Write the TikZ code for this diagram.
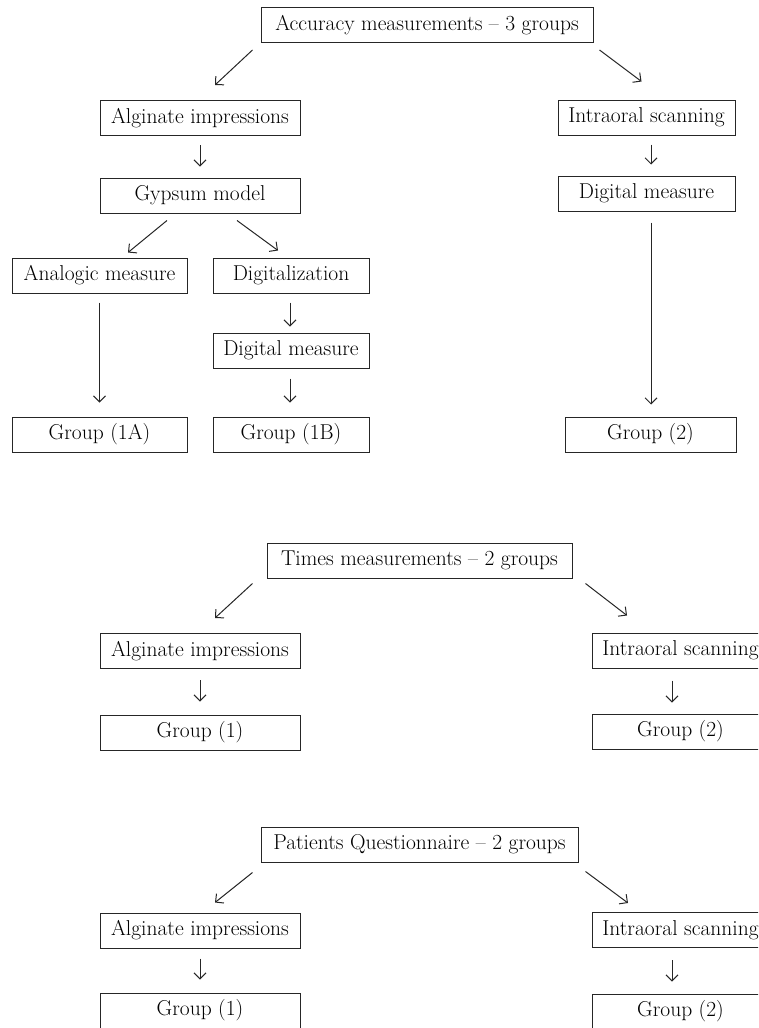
\documentclass[tikz,border=0pt]{standalone}
\usepackage{fontspec}
\usepackage{tikz}
\usetikzlibrary{arrows.meta,calc}

\begin{document}
\begin{tikzpicture}[x=1pt, y=-1pt, line width=1pt,
  box/.style={draw=black!85, minimum height=35pt, inner sep=0pt, font=\fontsize{21.5}{25}\selectfont},
  arr/.style={draw=black!85, -{Straight Barb[length=6pt,width=12pt]}}]
\useasboundingbox (0,0) rectangle (758,1028);
\clip (0,0) rectangle (758,1028);

\node[box, minimum width=332pt] (acc) at (427,25) {Accuracy measurements – 3 groups};
\node[box, minimum width=200pt] (alg1) at (200,118) {Alginate impressions};
\node[box, minimum width=177pt] (intra1) at (646.5,117.5) {Intraoral scanning};
\node[box, minimum width=200pt] (gyp) at (200,195.5) {Gypsum model};
\node[box, minimum width=177pt] (dig2) at (646.5,193.5) {Digital measure};
\node[box, minimum width=175pt] (ana) at (99.5,275.5) {Analogic measure};
\node[box, minimum width=156pt] (digz) at (291,275.5) {Digitalization};
\node[box, minimum width=156pt] (dgm) at (291,350.5) {Digital measure};
\node[box, minimum width=175pt] (g1a) at (99.5,434.5) {Group (1A)};
\node[box, minimum width=156pt] (g1b) at (291,434.5) {Group (1B)};
\node[box, minimum width=171pt] (g2) at (650.5,434.5) {Group (2)};

\draw[arr] ($(acc.south west)+(-8,7)$) -- ($(alg1.north)+(15,-15)$);
\draw[arr] ($(acc.south east)+(6,7)$) -- ($(intra1.north)+(-5,-18)$);
\draw[arr] ($(alg1.south)+(0,9)$) -- ($(gyp.north)+(0,-11)$);
\draw[arr] ($(intra1.south)+(4.5,9)$) -- ($(dig2.north)+(4.5,-11)$);
\draw[arr] ($(gyp.south)+(-33,7)$) -- ($(ana.north)+(28.5,-5)$);
\draw[arr] ($(gyp.south)+(37,7)$) -- ($(digz.north)+(-13,-7)$);
\draw[arr] ($(ana.south)+(0,9)$) -- ($(g1a.north)+(0,-14)$);
\draw[arr] ($(digz.south)+(-1,9)$) -- ($(dgm.north)+(-1,-6)$);
\draw[arr] ($(dgm.south)+(-1,10)$) -- ($(g1b.north)+(-1,-14)$);
\draw[arr] ($(dig2.south)+(4.5,11)$) -- ($(g2.north)+(0.5,-12)$);

\node[box, minimum width=305pt] (times) at (419.5,560.5) {Times measurements – 2 groups};
\node[box, minimum width=200pt] (alg2) at (200,651) {Alginate impressions};
\node[box, minimum width=177pt] (intra2) at (680.5,650.5) {Intraoral scanning};
\node[box, minimum width=200pt] (g1s2) at (200,732.5) {Group (1)};
\node[box, minimum width=177pt] (g2s2) at (680.5,731.5) {Group (2)};

\draw[arr] ($(times.south west)+(-14,5)$) -- ($(alg2.north)+(15,-15)$);
\draw[arr] ($(times.south east)+(13,5)$) -- ($(intra2.north)+(-53.5,-17)$);
\draw[arr] ($(alg2.south)+(0,11)$) -- ($(g1s2.north)+(0,-13)$);
\draw[arr] ($(intra2.south)+(-8.5,12)$) -- ($(g2s2.north)+(-8.5,-11)$);

\node[box, minimum width=317pt] (pat) at (419.5,844.5) {Patients Questionnaire – 2 groups};
\node[box, minimum width=200pt] (alg3) at (200,930.5) {Alginate impressions};
\node[box, minimum width=177pt] (intra3) at (680.5,930) {Intraoral scanning};
\node[box, minimum width=200pt] (g1s3) at (200,1010.5) {Group (1)};
\node[box, minimum width=177pt] (g2s3) at (680.5,1011.5) {Group (2)};

\draw[arr] ($(pat.south west)+(-8,10)$) -- ($(alg3.north)+(15,-10)$);
\draw[arr] ($(pat.south east)+(7,9)$) -- ($(intra3.north)+(-52.5,-9)$);
\draw[arr] ($(alg3.south)+(0,10)$) -- ($(g1s3.north)+(0,-13)$);
\draw[arr] ($(intra3.south)+(-8.5,12)$) -- ($(g2s3.north)+(-8.5,-12)$);
\end{tikzpicture}
\end{document}
